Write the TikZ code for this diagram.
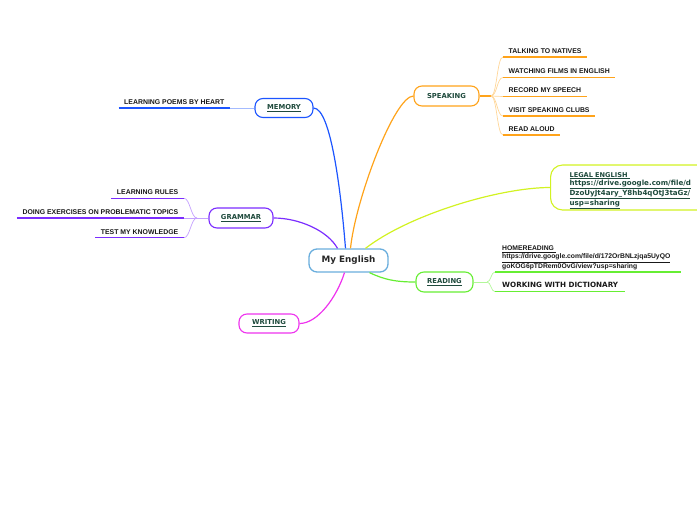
\documentclass[tikz,border=0pt]{standalone}
\usepackage{fontspec}
\usepackage{xcolor}
\newfontfamily\verd{DejaVu Sans}
\newfontfamily\arial{Liberation Sans}
\definecolor{cen}{HTML}{6AAEDD}
\definecolor{spk}{HTML}{FFA31A}
\definecolor{mem}{HTML}{1C55FF}
\definecolor{gram}{HTML}{7B2DFF}
\definecolor{wri}{HTML}{EE33EE}
\definecolor{rea}{HTML}{66EE33}
\definecolor{leg}{HTML}{D2F222}
\definecolor{lbl}{HTML}{1E4A3C}
\usetikzlibrary{positioning}

\begin{document}
\begin{tikzpicture}[x=1pt,y=-1pt,
  topic/.style={draw,line width=1.1pt,rounded corners=8pt,fill=white,text=lbl,inner sep=0pt,
    font=\verd\bfseries\fontsize{6.8}{8}\selectfont},
  leaf/.style={inner xsep=5.5pt,inner ysep=3.5pt,text height=5pt,text depth=0pt,text=black!90,
    font=\arial\bfseries\fontsize{6.9}{8}\selectfont},
  branch/.style={line width=1.2pt},
  twig/.style={line width=0.7pt}]
  \useasboundingbox (0,0) rectangle (697,520);
  \clip (0,0) rectangle (697,520);

  \node[topic,draw=cen,line width=1.3pt,minimum width=79pt,minimum height=23pt,text=black!85,
    font=\verd\bfseries\fontsize{8.8}{10}\selectfont] (eng) at (348.5,260.5) {My English};
  \node[topic,draw=spk,minimum width=65pt,minimum height=20pt] (speak) at (446.5,96) {SPEAKING};
  \node[topic,draw=mem,minimum width=58pt,minimum height=19pt] (mem) at (284,108) {\underline{MEMORY}};
  \node[topic,draw=gram,minimum width=64pt,minimum height=20pt] (gram) at (241,218) {\underline{GRAMMAR}};
  \node[topic,draw=wri,minimum width=60pt,minimum height=19pt] (wri) at (269,323.5) {\underline{WRITING}};
  \node[topic,draw=rea,minimum width=57pt,minimum height=20pt] (read) at (444.5,282) {\underline{READING}};
  \node[topic,draw=leg,anchor=west,minimum height=45pt,text width=150pt,align=left,inner xsep=19pt,
    rounded corners=12pt,font=\verd\bfseries\fontsize{6.6}{8.4}\selectfont] (legal) at (550,187.5)
    {\rule{0pt}{11pt}\underline{LEGAL ENGLISH\ }\\
     {\fontsize{7.1}{8.4}\selectfont\underline{https://drive.google.com/file/d}}\\
     {\fontsize{7.1}{8.4}\selectfont\underline{DzoUyJt4ary\_Y8hb4qOtJ3taGz/}}\\
     {\fontsize{7.1}{8.4}\selectfont\underline{usp=sharing}}};

  \draw[mem,branch] ([xshift=-3pt]eng.north) .. controls +(-4,-50) and +(18,0) .. (mem.east);
  \draw[spk,branch] ([xshift=2pt]eng.north) .. controls +(5,-49) and +(-19,0) .. (speak.west);
  \draw[leg,branch] ([xshift=17pt]eng.north) .. controls +(44,-34) and +(-50,0) .. (legal.west);
  \draw[rea,branch] ([xshift=21pt]eng.south) .. controls +(15,7) and +(-20,0) .. (read.west);
  \draw[gram,branch] ([xshift=-11pt]eng.north) .. controls +(-10,-18) and +(25,0) .. (gram.east);
  \draw[wri,branch] ([xshift=-4pt]eng.south) .. controls +(-8,25) and +(18,0) .. (wri.east);

  \coordinate (sfork) at (491,96);
  \node[leaf,anchor=south west] (natives) at (503,57) {TALKING TO NATIVES};
  \node[leaf,anchor=south west] (films) at (503,77.5) {WATCHING FILMS IN ENGLISH};
  \node[leaf,anchor=south west] (record) at (503,96.5) {RECORD MY SPEECH};
  \node[leaf,anchor=south west] (clubs) at (503,116) {VISIT SPEAKING CLUBS};
  \node[leaf,anchor=south west] (aloud) at (503,135) {READ ALOUD};
  \draw[spk,branch] (speak.east) -- (sfork);
  \draw[spk!45,twig] (sfork) .. controls +(6,0) and +(-6,0) .. (natives.south west);
  \draw[spk!45,twig] (sfork) .. controls +(6,0) and +(-6,0) .. (films.south west);
  \draw[spk!45,twig] (sfork) .. controls +(6,0) and +(-6,0) .. (record.south west);
  \draw[spk!45,twig] (sfork) .. controls +(6,0) and +(-6,0) .. (clubs.south west);
  \draw[spk!45,twig] (sfork) .. controls +(6,0) and +(-6,0) .. (aloud.south west);
  \draw[spk,branch] (natives.south west) -- (natives.south east);
  \draw[spk,branch] (films.south west) -- (films.south east);
  \draw[spk,branch] (record.south west) -- (record.south east);
  \draw[spk,branch] (clubs.south west) -- (clubs.south east);
  \draw[spk,branch] (aloud.south west) -- (aloud.south east);

  \node[leaf,anchor=south east] (poems) at (230,108) {LEARNING POEMS BY HEART};
  \draw[mem!40,twig] (poems.south east) -- (mem.west);
  \draw[mem,branch] (poems.south west) -- (poems.south east);

  \coordinate (gfork) at (197,218);
  \node[leaf,anchor=south east] (rules) at (184,198.3) {LEARNING RULES};
  \node[leaf,anchor=south east] (topics) at (184,218) {DOING EXERCISES ON PROBLEMATIC TOPICS};
  \node[leaf,anchor=south east] (test) at (184,237.7) {TEST MY KNOWLEDGE};
  \draw[gram!45,twig] (gram.west) -- (gfork);
  \draw[gram!45,twig] (gfork) .. controls +(-6,0) and +(6,0) .. (rules.south east);
  \draw[gram!45,twig] (gfork) -- (topics.south east);
  \draw[gram!45,twig] (gfork) .. controls +(-6,0) and +(6,0) .. (test.south east);
  \draw[gram,branch] (rules.south west) -- (rules.south east);
  \draw[gram,branch] (topics.south west) -- (topics.south east);
  \draw[gram,branch] (test.south west) -- (test.south east);

  \coordinate (rfork) at (487,282);
  \node[anchor=south west,align=left,text width=172pt,inner xsep=7pt,inner ysep=0pt,text=black!90,
    font=\arial\bfseries\fontsize{6.8}{8}\selectfont] (home) at (495,272)
    {\underline{HOMEREADING\ }\\ \underline{https://drive.google.com/file/d/172OrBNLzjqa5UyQO}\\
     \underline{goKOG6pTDRem0OvG/view?usp=sharing}};
  \node[anchor=south west,inner xsep=7pt,inner ysep=4.5pt,text height=5pt,text depth=0pt,text=black!90,
    font=\verd\bfseries\fontsize{7.2}{8}\selectfont] (dict) at (495,291.7) {WORKING WITH DICTIONARY};
  \draw[rea!50,twig] (read.east) -- (rfork);
  \draw[rea!50,twig] (rfork) .. controls +(4,0) and +(-4,0) .. (home.south west);
  \draw[rea!50,twig] (rfork) .. controls +(4,0) and +(-4,0) .. (dict.south west);
  \draw[rea,branch] (home.south west) -- (home.south east);
  \draw[rea,branch] (dict.south west) -- (dict.south east);
\end{tikzpicture}
\end{document}
